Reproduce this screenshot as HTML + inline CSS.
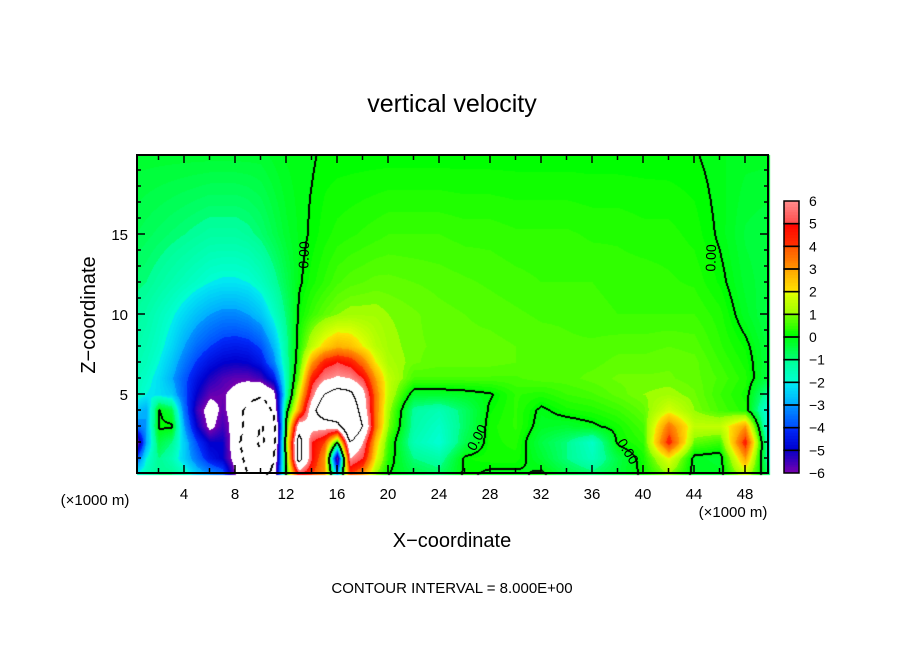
<!DOCTYPE html>
<html><head><meta charset="utf-8"><style>
html,body{margin:0;padding:0;background:#fff;}
#wrap{position:relative;width:904px;height:654px;overflow:hidden;font-family:"Liberation Sans",sans-serif;}
canvas,svg{position:absolute;left:0;top:0;}
</style></head><body>
<div id="wrap">
<canvas id="cv" width="904" height="654"></canvas>
<svg id="sv" width="904" height="654"></svg>
</div>
<script>
// grid coordinates (km)
const xCoords=[0,1,2,3,4,5,6,7,8,9,10,11,12,13,14,15,16,17,18,19,20,22,24,26,28,30,32,34,36,38,40,42,44,46,48,50];
const zLevels=[0,1,2,3,4,5,6,7,8,10,12,15,20];
// vertical velocity rows (m/s), one array per height level
const w_z0=[-2,-1.5,-1,-1,-1.5,-2.5,-3,-3.5,-6,-8,-9,-7,0.2,5,4,3,-3,4,3,1,0,-0.5,-0.8,0.1,-0.1,-0.1,0.1,-0.5,-0.8,-0.4,0.1,1,-0.2,-0.2,1.5,-1];
const w_z1=[-4.5,-2,-1,-1.5,-2.5,-3.5,-4.5,-5,-6.5,-9,-14,-8,0.5,9,5,3,-6,6,5,2,0.3,-1,-1.3,0.1,0.2,0.2,-0.3,-1,-1.6,-0.5,0.2,2,-0.2,-0.3,3,-2];
const w_z2=[-7.5,-3,-0.5,-1,-2.5,-4,-5,-5,-6.8,-10,-18,-9,1,9,5,4,0,8,6,2.5,0.5,-1.5,-2,-0.6,0.2,0.3,-0.5,-1,-1.8,0.1,0.4,4.5,0.8,0.5,4.5,-2.5];
const w_z3=[-3.5,-3,0.1,0.1,-3,-5,-6.3,-5.5,-6.5,-9,-17,-9,0.3,7,6.5,6.5,7,11,8,3.5,1,-1.3,-1.8,-0.8,0.2,0.4,-0.2,-0.3,-0.1,0.2,0.6,3.5,1.5,1.5,3,-3];
const w_z4=[-2.5,-3,0.05,-0.5,-3.5,-5.5,-6.5,-5.8,-6.5,-9,-10,-7.5,-0.3,3,7,10,11,10,7,3.5,1.2,-1.2,-1.5,-0.8,0.1,0.4,-0.1,0.2,0.3,0.5,0.8,1.8,1,0.6,0.3,-2.5];
const w_z5=[-1.5,-2,-2.2,-2.5,-3.8,-5,-5.8,-5.9,-6.3,-7,-7.5,-6.5,-1.5,2,5.5,8,9,8.5,6.5,3.5,1.5,-0.3,-0.3,-0.2,-0.05,0.4,0.3,0.5,0.6,0.8,1,1.1,0.9,0.5,0.2,-1.5];
const w_z6=[-1.5,-1.8,-2.2,-2.9,-3.8,-4.6,-5.2,-5.6,-5.8,-5.8,-5.5,-4.5,-1.5,1,4.5,5.8,6.2,6,5,3,1.5,0.6,0.6,0.6,0.6,0.6,0.7,0.7,0.8,0.9,0.9,0.9,0.8,0.6,0.3,-0.6];
const w_z7=[-1.4,-1.6,-2,-2.6,-3.4,-4.1,-4.6,-4.9,-5,-4.9,-4.5,-3.3,-1.3,0.5,3,4.5,5,4.6,3.5,2,1.2,0.9,0.8,0.8,0.8,0.75,0.7,0.7,0.7,0.8,0.8,0.85,0.8,0.5,0.2,-0.5];
const w_z8=[-1.3,-1.5,-1.8,-2.3,-3,-3.6,-4,-4.3,-4.4,-4.3,-3.9,-2.8,-1.2,0.3,1.5,2.3,2.8,2.6,2,1.4,1.1,0.9,0.85,0.8,0.8,0.75,0.7,0.65,0.65,0.7,0.7,0.75,0.7,0.4,0.1,-0.5];
const w_z10=[-1.1,-1.3,-1.6,-1.9,-2.3,-2.7,-3,-3.2,-3.2,-3,-2.6,-1.8,-0.9,0.1,0.5,0.8,1,1.1,1.1,1.1,1,0.9,0.8,0.75,0.7,0.65,0.6,0.6,0.55,0.5,0.5,0.5,0.5,0.3,-0.2,-0.6];
const w_z12=[-0.9,-1,-1.2,-1.4,-1.6,-1.8,-2,-2.1,-2.1,-2,-1.7,-1.2,-0.6,-0.05,0.2,0.4,0.6,0.7,0.75,0.8,0.8,0.75,0.7,0.65,0.6,0.55,0.5,0.5,0.5,0.45,0.45,0.4,0.35,0.1,-0.3,-0.5];
const w_z15=[-0.6,-0.7,-0.8,-0.9,-1,-1.1,-1.2,-1.2,-1.2,-1.1,-0.9,-0.6,-0.3,-0.1,0.05,0.2,0.3,0.35,0.4,0.45,0.5,0.5,0.5,0.45,0.45,0.4,0.4,0.4,0.35,0.35,0.3,0.3,0.2,-0.05,-0.4,-0.5];
const w_z20=[-0.3,-0.3,-0.3,-0.3,-0.3,-0.3,-0.3,-0.3,-0.3,-0.3,-0.3,-0.2,-0.1,-0.05,-0.03,0.05,0.05,0.05,0.05,0.05,0.05,0.05,0.05,0.05,0.05,0.05,0.05,0.05,0.05,0.05,0.05,0.04,0.02,-0.1,-0.2,-0.2];
const wRows=[w_z0,w_z1,w_z2,w_z3,w_z4,w_z5,w_z6,w_z7,w_z8,w_z10,w_z12,w_z15,w_z20];
const xTickLabels=[4,8,12,16,20,24,28,32,36,40,44,48];
const zTickLabels=[5,10,15];
const cbLabels=[6,5,4,3,2,1,0,-1,-2,-3,-4,-5,-6];
const contourLevels=[0,8,-8,-16];

// axis functions
const PX0=133, PXS=12.75, PY0=474, PYS=16;
const L=137,R=768,T=155,B=473;
function xPix(x){return PX0+PXS*x;}
function zPix(z){return PY0-PYS*z;}
function xKm(px){return (px-PX0)/PXS;}
function zKm(py){return (PY0-py)/PYS;}

function idx(arr,v){let i=0;while(i<arr.length-2&&v>arr[i+1])i++;return i;}
function field(x,z){
  x=Math.max(0,Math.min(50,x));z=Math.max(0,Math.min(20,z));
  const i=idx(xCoords,x),j=idx(zLevels,z);
  const tx=(x-xCoords[i])/(xCoords[i+1]-xCoords[i]);
  const tz=(z-zLevels[j])/(zLevels[j+1]-zLevels[j]);
  const a=wRows[j][i],b=wRows[j][i+1],c=wRows[j+1][i],d=wRows[j+1][i+1];
  return (a*(1-tx)+b*tx)*(1-tz)+(c*(1-tx)+d*tx)*tz;
}
const cmap={"-6":["7000b0","0000c8"],"-5":["0000d0","0030ff"],"-4":["0050ff","0098ff"],"-3":["00b0ff","00f0f0"],
"-2":["00ffd0","00ff90"],"-1":["00ff70","00ff08"],"0":["00ff00","80ff00"],"1":["a0ff00","e8ff00"],
"2":["ffe000","ffa000"],"3":["ff9000","ff5000"],"4":["ff3000","ff0000"],"5":["ff5050","ff9090"]};
function hx(h){return [parseInt(h.substr(0,2),16),parseInt(h.substr(2,2),16),parseInt(h.substr(4,2),16)];}
function color(v){
  if(v>6||v<-6)return [255,255,255];
  let k=Math.floor(v);if(k>5)k=5;if(k<-6)k=-6;
  const t=Math.floor((v-k)*8)/8,c=cmap[String(k)],a=hx(c[0]),b=hx(c[1]);
  return [a[0]+(b[0]-a[0])*t,a[1]+(b[1]-a[1])*t,a[2]+(b[2]-a[2])*t];
}
const cv=document.getElementById('cv'),ctx=cv.getContext('2d');
const W=R-L+2,H=B-T+2;
const vals=new Float32Array(W*H);
for(let y=0;y<H;y++)for(let x=0;x<W;x++)vals[y*W+x]=field(xKm(L+x),zKm(T+y));
const img=ctx.createImageData(W,H);
for(let y=0;y<H;y++)for(let x=0;x<W;x++){
  const v=vals[y*W+x];let c=color(v);
  for(const lv of contourLevels){
    const s=v>=lv;let hit=false;
    if(x+1<W&&(vals[y*W+x+1]>=lv)!==s)hit=true;
    if(y+1<H&&(vals[(y+1)*W+x]>=lv)!==s)hit=true;
    if(lv!==8){if(x>0&&(vals[y*W+x-1]>=lv)!==s)hit=true;if(y>0&&(vals[(y-1)*W+x]>=lv)!==s)hit=true;}
    if(hit){ if(lv<0&&Math.floor((x+y)/6)%2===1)continue; c=[0,0,0];}
  }
  const o=(y*W+x)*4;img.data[o]=c[0];img.data[o+1]=c[1];img.data[o+2]=c[2];img.data[o+3]=255;
}
ctx.putImageData(img,L,T);
// colorbar
const CBT=201,CBB=473,CBS=(CBB-CBT)/12;
function cbY(v){return CBT+(6-v)*CBS;}
for(let y=CBT;y<CBB;y++){const v=6-(y-CBT+0.5)/CBS;const c=color(Math.max(-5.999,Math.min(5.999,v)));
  ctx.fillStyle='rgb('+c.map(Math.round).join(',')+')';ctx.fillRect(784,y,15,1);}

const NS='http://www.w3.org/2000/svg',sv=document.getElementById('sv');
function el(tag,attrs,parent){const e=document.createElementNS(NS,tag);for(const k in attrs)e.setAttribute(k,attrs[k]);(parent||sv).appendChild(e);return e;}
function txt(s,attrs){const e=el('text',attrs);e.textContent=s;return e;}
const frame=el('rect',{x:L,y:T,width:R-L,height:B-T,fill:'none',stroke:'#000','stroke-width':2});


// x ticks
for(let x=2;x<50;x+=2){const px=xPix(x);const len=(x%4===0)?8:5;
  const t1=el('line',{x1:px,y1:B,x2:px,y2:B-len,stroke:'#000','stroke-width':1.5});
  
  
  const t2=el('line',{x1:px,y1:T,x2:px,y2:T+len,stroke:'#000','stroke-width':1.5});
  
  }
for(const v of xTickLabels){const t=txt(String(v),{x:xPix(v),y:499,'font-size':15,'text-anchor':'middle'});
  
  }
for(let z=1;z<20;z++){const py=zPix(z);const len=(z%5===0)?8:4;
  const t1=el('line',{x1:L,y1:py,x2:L+len,y2:py,stroke:'#000','stroke-width':1.5});
  
  
  const t2=el('line',{x1:R,y1:py,x2:R-len,y2:py,stroke:'#000','stroke-width':1.5});
  
  }
for(const v of zTickLabels){const t=txt(String(v),{x:128,y:zPix(v)+6,'font-size':15,'text-anchor':'end'});
  
  }
// colorbar boxes
for(let k=0;k<12;k++){const r=el('rect',{x:784,y:cbY(cbLabels[k]),width:15,height:CBS,fill:'none',stroke:'#000','stroke-width':1.5});
  
  }
for(const v of cbLabels){const t=txt(String(v).replace('-','\u2212'),{x:809,y:cbY(v)+5,'font-size':14});
  
  }
// contour labels
const lbls=[[305,255,-88],[712,258,-88],[478,438,-62],[627,452,58]];
for(const p of lbls){const t=txt('0.00',{x:p[0],y:p[1],'font-size':14,'text-anchor':'middle','dominant-baseline':'middle',transform:'rotate('+p[2]+' '+p[0]+' '+p[1]+')'});
  
  }
const title=txt('vertical velocity',{x:452,y:112,'font-size':25,'text-anchor':'middle'});


const yt=txt('Z\u2212coordinate',{x:95,y:315,'font-size':20,'text-anchor':'middle',transform:'rotate(-90 95 315)'});


const xt=txt('X\u2212coordinate',{x:452,y:547,'font-size':20,'text-anchor':'middle'});


const u1=txt('(\u00d71000 m)',{x:95,y:505,'font-size':15,'text-anchor':'middle'});


const u2=txt('(\u00d71000 m)',{x:733,y:517,'font-size':15,'text-anchor':'middle'});


const ci=txt('CONTOUR INTERVAL = 8.000E+00',{x:452,y:593,'font-size':15,'text-anchor':'middle'});


</script>
</body></html>
